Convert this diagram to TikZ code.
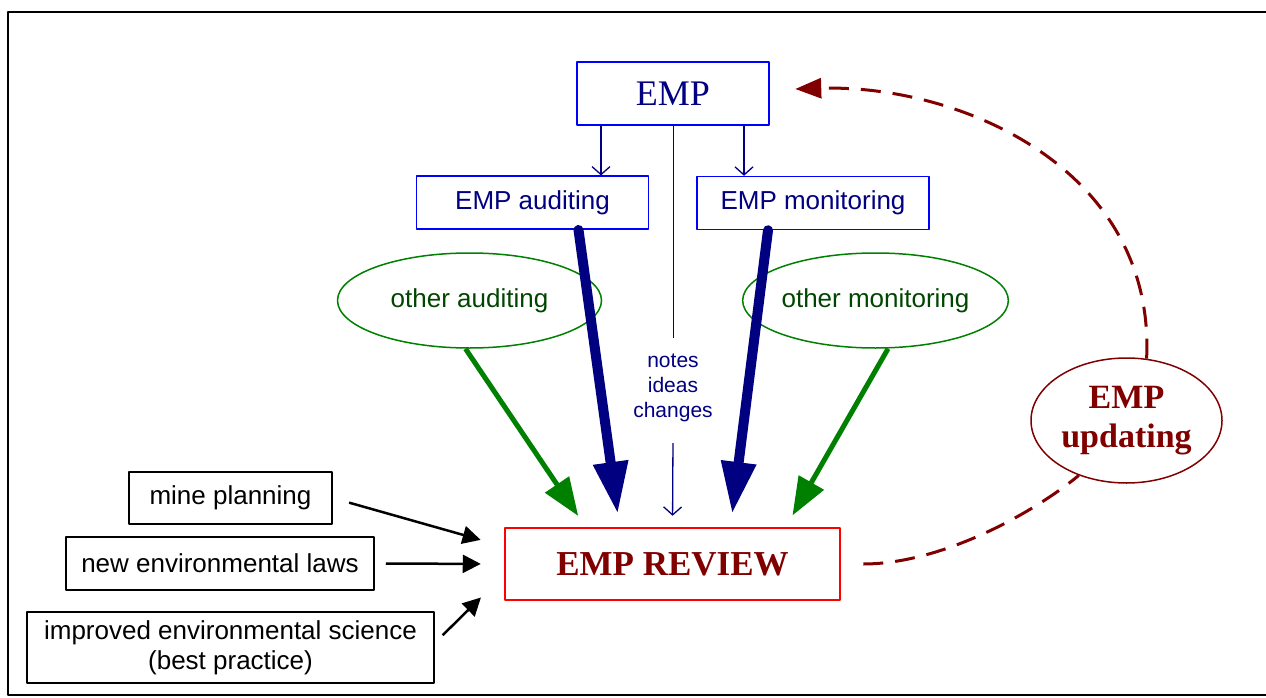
\documentclass[tikz,border=0pt]{standalone}
\usepackage{fontspec}
\setmainfont{Liberation Serif}
\setsansfont{Liberation Sans}
\usetikzlibrary{arrows.meta,shapes.geometric}
\definecolor{empnavy}{RGB}{0,0,128}
\definecolor{empred}{RGB}{128,0,0}
\definecolor{empgreen}{RGB}{0,128,0}
\definecolor{empgreentext}{RGB}{0,70,0}
\tikzset{
  sansfont/.style={font=\sffamily\fontsize{26}{30}\selectfont},
  planbox/.style={draw=blue, line width=1.5pt, text=empnavy, sansfont, inner sep=0pt, minimum width=232pt, minimum height=53pt},
  otherell/.style={ellipse, draw=empgreen, line width=1.5pt, text=empgreentext, sansfont, inner sep=0pt, minimum width=264pt, minimum height=95pt},
  inputbox/.style={draw=black, line width=1.5pt, sansfont, inner sep=0pt, align=center},
  thinarrow/.style={empnavy, line width=1.3pt, -{Straight Barb[length=8pt,width=18pt]}},
  bigarrow/.style={empnavy, line width=10pt, line cap=round, shorten >=13pt, -{Triangle[length=52pt,width=33pt]}},
  greenarrow/.style={empgreen, line width=5pt, shorten >=13pt, -{Triangle[length=38pt,width=28pt]}},
  inarrow/.style={black, line width=2.5pt, -{Triangle[length=18pt,width=18pt]}},
  updline/.style={empred, line width=3pt, dash pattern=on 20pt off 12pt}
}
\begin{document}
\begin{tikzpicture}[x=1pt, y=-1pt, line join=round]
  \useasboundingbox (0,0) rectangle (1266,698);
  % --- 外枠 ---
  \draw[line width=2.5pt] (1280,12) -- (8,12) -- (8,695) -- (1280,695);
  % --- 上の箱 ---
  \node[draw=blue, line width=2.5pt, text=empnavy, font=\fontsize{36}{40}\selectfont, inner sep=0pt, minimum width=192pt, minimum height=63pt] (emp) at (673,93.5) {EMP};
  \node[planbox] (aud) at (532.5,202.7) {EMP auditing};
  \node[planbox] (mon) at (813,203) {EMP monitoring};
  % --- 楕円 ---
  \node[otherell] (oaud) at (469.5,300.5) {other auditing};
  \node[otherell] (omon) at (875.5,300.5) {other monitoring};
  % --- 中央のメモ ---
  \node[text=empnavy, font=\sffamily\fontsize{21}{25}\selectfont, align=center, inner xsep=2pt, inner ysep=16pt] (notes) at (673,388) {notes\\ideas\\changes};
  % --- 下の箱 ---
  \node[draw=red, line width=2.5pt, text=empred, font=\bfseries\fontsize{35}{40}\selectfont, inner sep=0pt, minimum width=335pt, minimum height=72pt] (review) at (672.5,564) {EMP REVIEW};
  \node[ellipse, draw=empred, line width=1.5pt, text=empred, font=\bfseries\fontsize{34}{39}\selectfont, align=center, inner sep=0pt, minimum width=191pt, minimum height=125pt] (update) at (1126.5,420.5) {EMP\\updating};
  % --- 左の箱 ---
  \node[inputbox, minimum width=203pt, minimum height=52pt] (mine) at (230.5,498) {mine planning};
  \node[inputbox, minimum width=308pt, minimum height=53pt] (laws) at (220,563.5) {new environmental laws};
  \node[inputbox, minimum width=407pt, minimum height=71pt, font=\sffamily\fontsize{26}{30}\selectfont] (impr) at (230.5,647.5) {improved environmental science\\(best practice)};
  % --- 細い矢印 ---
  \draw[thinarrow] ([xshift=-72pt]emp.south) -- ([xshift=-72pt]emp.south |- aud.north);
  \draw[thinarrow] ([xshift=71pt]emp.south) -- ([xshift=71pt]emp.south |- mon.north);
  \draw[empnavy, line width=1pt] (emp.south) -- (notes.north);
  \draw[thinarrow, shorten <=5pt, shorten >=11pt] (notes.south) -- (review.north);
  % --- 太い矢印 ---
  \draw[bigarrow] ([xshift=46pt]aud.south) -- ([xshift=-53pt]review.north);
  \draw[bigarrow] ([xshift=-45pt]mon.south) -- ([xshift=58pt]review.north);
  \draw[greenarrow] ([xshift=-4pt]oaud.south) -- ([xshift=-87pt]review.north);
  \draw[greenarrow] ([xshift=12.5pt]omon.south) -- ([xshift=113.5pt]review.north);
  % --- 左からの矢印 ---
  \draw[inarrow, shorten <=17pt, shorten >=24pt] (mine.east) -- ([yshift=17.6pt]review.west);
  \draw[inarrow, shorten <=11pt, shorten >=23pt] (laws.east) -- (review.west);
  \draw[inarrow, shorten <=11pt, shorten >=32pt] ([yshift=4.5pt]impr.east) -- ([yshift=-11pt]review.west);
  % --- 更新のループ(破線) ---
  \draw[updline, shorten <=22pt] (review.east) .. controls +(100,0) and +(-46,38) .. (update.229);
  \draw[updline, -{Triangle[length=26pt,width=20pt]}] (update.72) .. controls +(9,-189) and +(166,-5) .. ([xshift=25pt,yshift=4.5pt]emp.east);
\end{tikzpicture}
\end{document}
